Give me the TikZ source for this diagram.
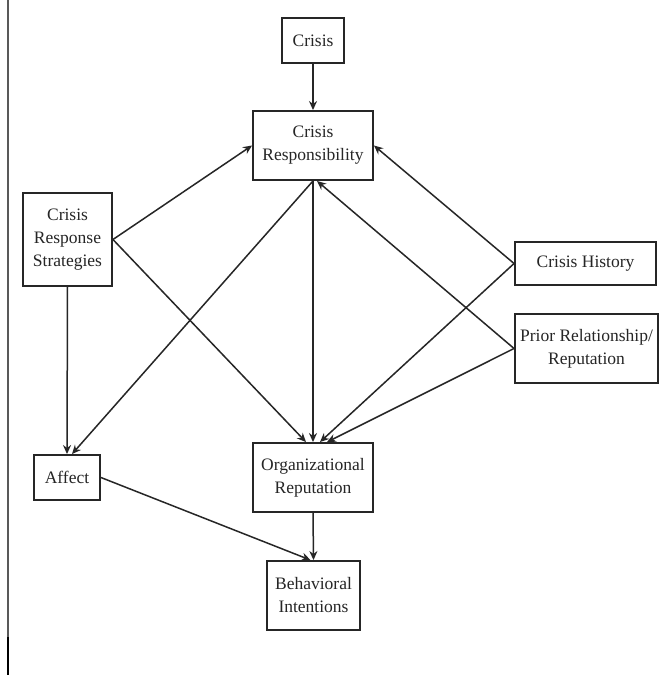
\documentclass[tikz,border=0pt]{standalone}
\usepackage{fontspec}
\setmainfont{Liberation Serif}
\usetikzlibrary{arrows.meta}
\definecolor{ink}{HTML}{262626}
\begin{document}
\begin{tikzpicture}[x=1pt,y=-1pt,
  box/.style={draw=ink,line width=1.9pt,fill=white,text=ink,align=center,inner sep=0pt,
    font=\fontsize{17.5}{23}\selectfont},
  arr/.style={draw=ink,line width=1.5pt,-{Stealth[length=9pt,width=8pt]}}]
\useasboundingbox (0,0) rectangle (660,675);
\fill[white] (0,0) rectangle (660,675);
% left edge line
\draw[gray!70!black,line width=1.2pt] (8,0) -- (8,637);
\draw[black,line width=2.6pt] (8,637) -- (8,675);
% nodes
\node[box,minimum width=62pt,minimum height=45pt] (crisis) at (313,40.5) {Crisis};
\node[box,minimum width=120pt,minimum height=69pt] (cr) at (313,145.5) {Crisis\\Responsibility};
\node[box,minimum width=89pt,minimum height=93pt] (crs) at (67.5,239.5) {Crisis\\Response\\Strategies};
\node[box,minimum width=141pt,minimum height=43pt] (ch) at (585.5,263.5) {Crisis History};
\node[box,minimum width=143pt,minimum height=69pt] (prior) at (586.5,348.5) {Prior Relationship/\\Reputation};
\node[box,minimum width=66pt,minimum height=45pt] (affect) at (67,477.5) {Affect};
\node[box,minimum width=120pt,minimum height=69pt] (or) at (313,477.5) {Organizational\\Reputation};
\node[box,minimum width=93pt,minimum height=69pt] (bi) at (313.5,595.5) {Behavioral\\Intentions};
% connectors
\draw[arr] (crisis.south) -- (cr.north);
\draw[arr] (crs.east) -- (cr.west);
\draw[arr] (crs.east) -- ([xshift=-7pt]or.north);
\draw[arr] (crs.south) -- (affect.north);
\draw[arr] (cr.south) -- ([xshift=5pt]affect.north);
\draw[arr] (ch.west) -- (cr.east);
\draw[arr] (ch.west) -- ([xshift=7pt]or.north);
\draw[arr] (prior.west) -- ([xshift=4pt]cr.south);
\draw[arr] (prior.west) -- ([xshift=14pt]or.north);
\draw[arr] (cr.south) -- (or.north);
\draw[arr] (or.south) -- (bi.north);
\draw[arr] (affect.east) -- ([xshift=-3pt]bi.north);
\end{tikzpicture}
\end{document}
